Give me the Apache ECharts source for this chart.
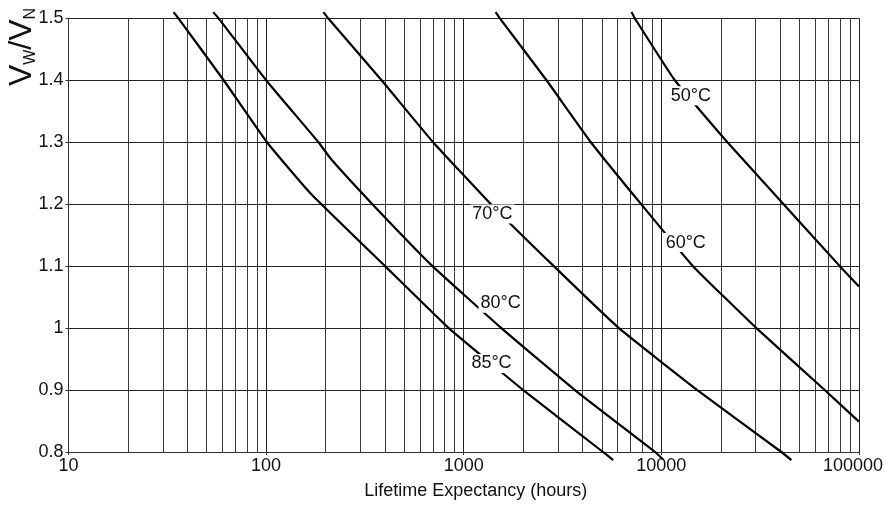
<!DOCTYPE html>
<html><head><meta charset="utf-8">
<script src="https://cdn.jsdelivr.net/npm/echarts@6/dist/echarts.min.js"></script>
<style>html,body{margin:0;padding:0;background:#fff}#c{width:886px;height:505px}</style>
</head><body><div id="c"></div>
<script>
// Lifetime (hours) vs. voltage ratio Vw/Vn per temperature
const t85 = [34, 36, 61, 101, 166, 400, 840, 2000, 5070, 5700];
const v85 = [1.51, 1.5, 1.4, 1.3, 1.219, 1.1, 1.0, 0.9, 0.8, 0.787];
const t80 = [54, 57.5, 100, 184, 214, 345, 695, 1550, 3650, 9300, 10200];
const v80 = [1.51, 1.5, 1.4, 1.3, 1.272, 1.2, 1.1, 1.0, 0.9, 0.8, 0.788];
const t70 = [195, 206, 384, 700, 1372, 2856, 6100, 15200, 40500, 45500];
const v70 = [1.51, 1.5, 1.4, 1.3, 1.2, 1.1, 1.0, 0.9, 0.8, 0.787];
const t60 = [1450, 1524, 2624, 4400, 7900, 14450, 30270, 67080, 100000];
const v60 = [1.51, 1.5, 1.4, 1.3, 1.2, 1.1, 1.0, 0.9, 0.849];
const t50 = [7060, 7340, 11700, 21600, 41550, 80000, 100000];
const v50 = [1.51, 1.5, 1.4, 1.3, 1.2, 1.1, 1.067];

const seriesNames = ['85°C', '80°C', '70°C', '60°C', '50°C'];
// label anchor (hours, ratio) for each curve's tag
const labelHours = [1382, 1537, 1395, 13290, 14100];
const labelRatio = [0.943, 1.040, 1.184, 1.138, 1.375];

const xTicks = [10, 100, 1000, 10000, 100000];
const yMin = 0.8, yMax = 1.5, yStep = 0.1;

const minorX = [];
for (let d = 10; d < 100000; d *= 10) for (let k = 2; k <= 9; k++) minorX.push(k * d);

const FONT = '"Liberation Sans", Arial, Helvetica, sans-serif';
const curvesT = [t85, t80, t70, t60, t50];
const curvesV = [v85, v80, v70, v60, v50];

const series = curvesT.map((ts, i) => {
  const s = {
    type: 'line',
    name: seriesNames[i],
    data: ts.map((t, j) => [t, curvesV[i][j]]),
    showSymbol: false,
    symbol: 'none',
    smooth: 0.12,
    clip: false,
    silent: true,
    z: 3,
    lineStyle: { color: '#000', width: 2.2 },
    markPoint: {
      silent: true,
      symbol: 'rect',
      symbolSize: 1,
      itemStyle: { color: 'rgba(0,0,0,0)' },
      label: {
        show: true, position: 'inside', color: '#111', fontSize: 18, fontFamily: FONT,
        backgroundColor: '#fff', padding: [1, 2, 0, 2],
        formatter: () => seriesNames[i]
      },
      data: [{ coord: [labelHours[i], labelRatio[i]] }]
    }
  };
  if (i === 0) {
    s.markLine = {
      silent: true, z: 1, animation: false,
      symbol: ['none', 'none'],
      label: { show: false },
      lineStyle: { color: '#3a3a3a', width: 1, type: 'solid' },
      data: minorX.map(v => ({ xAxis: v }))
    };
  }
  return s;
});

const chart = echarts.init(document.getElementById('c'));
chart.setOption({
  animation: false,
  backgroundColor: '#fff',
  grid: { left: 68.5, right: 26.7, top: 18.3, bottom: 52.5, containLabel: false },
  xAxis: {
    type: 'log', logBase: 10, min: 10, max: 100000,
    name: 'Lifetime Expectancy (hours)', nameLocation: 'middle', nameGap: 30,
    nameTextStyle: { fontSize: 18, color: '#111', fontFamily: FONT, padding: [0, 0, 0, 24] },
    axisLine: { show: true, lineStyle: { color: '#333', width: 1 } },
    axisTick: { show: true, length: 3, lineStyle: { color: '#333' } },
    axisLabel: {
      fontSize: 18, color: '#111', fontFamily: FONT, margin: 5,
      formatter: v => {
        const r = Math.round(v);
        return r === xTicks[xTicks.length - 1] ? '{last|' + r + '}' : String(r);
      },
      rich: { last: { fontSize: 18, fontFamily: FONT, color: '#111', padding: [0, 12, 0, 0] } }
    },
    splitLine: { show: true, lineStyle: { color: '#222', width: 1 } }
  },
  yAxis: {
    type: 'value', min: yMin, max: yMax, interval: yStep,
    axisLine: { show: true, lineStyle: { color: '#333', width: 1 } },
    axisTick: { show: true, length: 3, lineStyle: { color: '#333' } },
    axisLabel: { fontSize: 18, color: '#111', fontFamily: FONT, margin: 5,
      formatter: v => String(+v.toFixed(1)) },
    splitLine: { show: true, lineStyle: { color: '#222', width: 1 } }
  },
  graphic: [{
    type: 'text', x: 22, y: 47, rotation: Math.PI / 2, silent: true,
    style: {
      text: '{v|V}{s|W}{v|/V}{s|N}',
      align: 'center', verticalAlign: 'middle',
      fill: '#111', font: '30px ' + FONT,
      rich: {
        v: { fontSize: 32, fontFamily: FONT, fill: '#111', lineHeight: 34 },
        s: { fontSize: 16, fontFamily: FONT, fill: '#111', verticalAlign: 'bottom', lineHeight: 34 }
      }
    }
  }],
  series: series
});
</script>
</body></html>
